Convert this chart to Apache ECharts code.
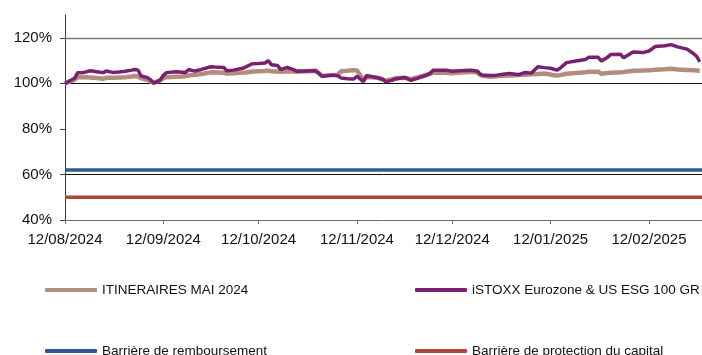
<!DOCTYPE html>
<html>
<head>
<meta charset="utf-8">
<script src="https://cdn.jsdelivr.net/npm/echarts@6/dist/echarts.min.js"></script>
<style>
  html, body { margin: 0; padding: 0; background: #ffffff; }
  #chart { width: 702px; height: 355px; }
</style>
</head>
<body>
<div id="chart"></div>
<script>
// Observation dates (shared by both performance series)
const dates = [
  '2024-08-12','2024-08-13','2024-08-15','2024-08-16','2024-08-18','2024-08-20','2024-08-22','2024-08-24','2024-08-25','2024-08-27','2024-08-29','2024-08-31',
  '2024-09-02','2024-09-03','2024-09-04','2024-09-05','2024-09-07','2024-09-08','2024-09-09','2024-09-11','2024-09-12','2024-09-13','2024-09-16','2024-09-18','2024-09-19','2024-09-20','2024-09-21','2024-09-22','2024-09-24','2024-09-27','2024-09-28',
  '2024-10-01','2024-10-02','2024-10-04','2024-10-07','2024-10-08','2024-10-10','2024-10-12','2024-10-14','2024-10-15','2024-10-16','2024-10-18','2024-10-19','2024-10-21','2024-10-23','2024-10-24','2024-10-27','2024-10-30','2024-10-31',
  '2024-11-01','2024-11-04','2024-11-06','2024-11-07','2024-11-09','2024-11-11','2024-11-12','2024-11-14','2024-11-15','2024-11-18','2024-11-20','2024-11-21','2024-11-23','2024-11-24','2024-11-27','2024-11-29',
  '2024-12-01','2024-12-03','2024-12-05','2024-12-06','2024-12-08','2024-12-10','2024-12-12','2024-12-14','2024-12-16','2024-12-18','2024-12-20','2024-12-21','2024-12-22','2024-12-24','2024-12-26','2024-12-28','2024-12-30',
  '2025-01-01','2025-01-02','2025-01-04','2025-01-05','2025-01-06','2025-01-08','2025-01-10','2025-01-12','2025-01-13','2025-01-14','2025-01-15','2025-01-17','2025-01-20','2025-01-23','2025-01-24','2025-01-27','2025-01-28','2025-01-30','2025-01-31',
  '2025-02-03','2025-02-04','2025-02-07','2025-02-10','2025-02-12','2025-02-13','2025-02-14','2025-02-17','2025-02-19','2025-02-21','2025-02-24','2025-02-26','2025-02-27','2025-02-28'
];

// ITINERAIRES MAI 2024 (base 100)
const itineraires = [
  100.0,100.5,101.5,102.8,102.7,102.6,102.3,102.0,102.4,102.5,102.6,102.7,
  103.0,103.2,103.0,102.2,101.5,100.8,100.3,101.3,102.3,102.7,102.9,103.0,103.2,103.4,103.6,103.8,104.1,104.8,104.9,
  104.7,104.3,104.4,104.7,104.8,105.2,105.3,105.4,105.6,105.3,105.2,105.1,105.3,105.2,105.1,105.3,105.5,104.4,
  103.2,103.6,103.8,105.3,105.5,105.8,105.6,101.6,102.8,102.6,101.8,101.2,101.8,102.2,102.4,101.9,
  102.6,103.4,104.2,104.7,104.8,104.6,104.4,104.7,104.9,105.1,104.7,103.6,103.2,102.9,103.1,103.3,103.4,
  103.6,103.7,103.8,103.9,104.0,104.1,104.3,103.9,103.5,103.4,103.6,104.2,104.5,104.9,105.1,105.1,104.2,104.5,104.7,
  104.9,105.0,105.5,105.6,105.7,105.8,106.0,106.2,106.4,106.1,105.9,105.7,105.6,105.4
];

// iSTOXX Eurozone & US ESG 100 GR (base 100)
const istoxx = [
  100.0,100.7,102.2,104.7,104.8,105.5,105.1,104.7,105.4,104.8,105.0,105.3,
  105.8,106.1,105.8,103.2,102.5,101.5,100.0,101.5,103.5,104.7,105.1,104.9,104.8,106.1,105.6,105.4,106.1,107.3,107.2,
  107.0,105.5,105.8,106.6,107.2,108.6,108.7,108.9,110.0,108.2,107.8,106.0,107.0,106.0,105.3,105.4,105.5,104.3,
  103.1,103.6,103.3,102.3,102.0,101.9,103.1,100.7,103.4,102.6,101.8,100.7,101.3,101.9,102.6,101.3,
  102.2,103.1,104.3,105.7,105.7,105.7,105.3,105.5,105.6,105.7,105.3,103.8,103.5,103.4,103.6,104.0,104.3,
  104.0,103.8,104.8,104.6,104.5,107.3,106.9,106.6,106.2,105.8,106.6,109.1,109.8,110.5,111.4,111.4,109.8,111.5,112.7,
  112.8,111.2,113.8,113.5,114.2,115.2,116.2,116.5,117.0,116.0,115.0,113.1,111.9,109.4
];

// Barrier levels (% of initial level)
const barriereRemboursement = 62;
const barriereProtection = 50;

// Axis ticks
const xTickDates = ['2024-08-12','2024-09-12','2024-10-12','2024-11-12','2024-12-12','2025-01-12','2025-02-12'];
const yTickValues = [40, 60, 80, 100, 120];

const seriesNames = [
  'ITINERAIRES MAI 2024',
  'iSTOXX Eurozone & US ESG 100 GR',
  'Barrière de remboursement',
  'Barrière de protection du capital'
];

const colors = {
  itineraires: '#B48C7E',
  istoxx: '#7B1F70',
  remboursement: '#2C5A92',
  protection: '#AF453F'
};

function parseDate(s) {
  const p = s.split('-').map(Number);
  return new Date(p[0], p[1] - 1, p[2]).getTime();
}
function pad(n) { return (n < 10 ? '0' : '') + n; }
function fmtDate(v) {
  const d = new Date(v);
  return pad(d.getDate()) + '/' + pad(d.getMonth() + 1) + '/' + d.getFullYear();
}

const xMin = parseDate('2024-08-12');
const xMax = parseDate('2025-02-28') + 17 * 3600 * 1000;
const xTicks = xTickDates.map(parseDate);

const pairs = (vals) => dates.map((d, i) => [parseDate(d), vals[i]]);
const flat = (v) => [[xMin, v], [xMax, v]];

const fontFamily = '"Liberation Sans", Arial, sans-serif';

function legendAt(name, left, top, color) {
  return {
    data: [{ name: name, icon: 'roundRect', itemStyle: { color: color } }],
    left: left, top: top,
    padding: 0,
    itemWidth: 52, itemHeight: 4, itemGap: 0,
    selectedMode: false,
    textStyle: { fontFamily: fontFamily, fontSize: 13.5, color: '#111' }
  };
}

const chart = echarts.init(document.getElementById('chart'), null, { renderer: 'canvas' });

chart.setOption({
  animation: false,
  backgroundColor: '#ffffff',
  grid: { left: 65, right: 0, top: 15, bottom: 135, containLabel: false },
  legend: [
    legendAt(seriesNames[0], 45, 283, colors.itineraires),
    legendAt(seriesNames[1], 415, 283, colors.istoxx),
    legendAt(seriesNames[2], 45, 344, colors.remboursement),
    legendAt(seriesNames[3], 415, 344, colors.protection)
  ],
  xAxis: {
    type: 'value',
    min: xMin,
    max: xMax,
    axisLine: { show: true, lineStyle: { color: '#6b6b6b', width: 1 } },
    axisTick: { show: true, customValues: xTicks, length: 4, inside: false, lineStyle: { color: '#6b6b6b' } },
    axisLabel: {
      customValues: xTicks,
      formatter: (v) => fmtDate(v),
      fontFamily: fontFamily, fontSize: 15, color: '#111', margin: 12
    },
    splitLine: { show: false }
  },
  yAxis: {
    type: 'value',
    min: 40,
    max: 130,
    interval: 10,
    axisLine: { show: true, lineStyle: { color: '#3a3a3a', width: 1 } },
    axisTick: { show: true, customValues: yTickValues, length: 5, lineStyle: { color: '#3a3a3a' } },
    axisLabel: {
      customValues: yTickValues,
      formatter: (v) => v + '%',
      fontFamily: fontFamily, fontSize: 15, color: '#111', margin: 13
    },
    splitLine: { show: false }
  },
  series: [
    {
      name: seriesNames[0],
      type: 'line',
      data: pairs(itineraires),
      showSymbol: false,
      symbol: 'none',
      z: 3,
      lineStyle: { color: colors.itineraires, width: 4.5 },
      itemStyle: { color: colors.itineraires },
      markLine: {
        silent: true,
        symbol: 'none',
        label: { show: false },
        data: [
          { yAxis: 120, lineStyle: { color: '#7a7a7a', width: 1.4, type: 'solid' } },
          { yAxis: 100, lineStyle: { color: '#111111', width: 1, type: 'solid' } },
          { yAxis: 60, lineStyle: { color: '#111111', width: 1, type: 'solid' } }
        ],
        z: 1
      }
    },
    {
      name: seriesNames[1],
      type: 'line',
      data: pairs(istoxx),
      showSymbol: false,
      symbol: 'none',
      z: 4,
      lineStyle: { color: colors.istoxx, width: 3.5 },
      itemStyle: { color: colors.istoxx }
    },
    {
      name: seriesNames[2],
      type: 'line',
      data: flat(barriereRemboursement),
      showSymbol: false,
      symbol: 'none',
      z: 3,
      lineStyle: { color: colors.remboursement, width: 3.5 },
      itemStyle: { color: colors.remboursement }
    },
    {
      name: seriesNames[3],
      type: 'line',
      data: flat(barriereProtection),
      showSymbol: false,
      symbol: 'none',
      z: 3,
      lineStyle: { color: colors.protection, width: 3.5 },
      itemStyle: { color: colors.protection }
    }
  ]
});
</script>
</body>
</html>
